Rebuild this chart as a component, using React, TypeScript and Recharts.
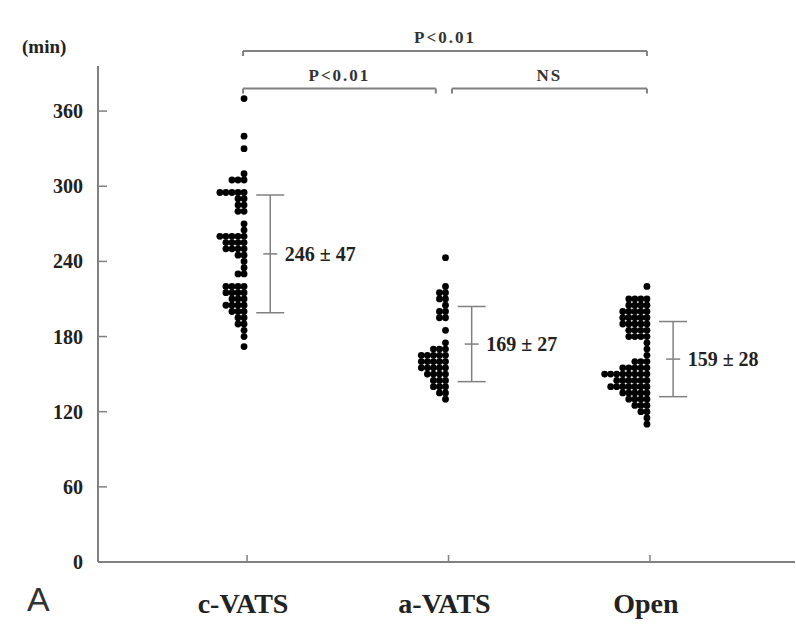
import React from 'react';
import {
  ScatterChart, Scatter, XAxis, YAxis, ErrorBar, ReferenceLine, LabelList,
} from 'recharts';

// operation time per patient (min)
const cVats = [
  370, 340, 330, 310, 305, 305, 305, 295, 295, 295, 295, 295, 290, 290, 285, 285, 280, 280,
  270, 265, 260, 260, 260, 260, 260, 255, 255, 255, 255, 250, 250, 250, 250, 245, 245, 240,
  235, 230, 230, 220, 220, 220, 220, 215, 215, 215, 215, 210, 210, 210, 205, 205, 205, 205,
  200, 200, 200, 195, 195, 190, 190, 185, 180, 172,
];
const aVats = [
  243, 220, 215, 215, 210, 210, 205, 200, 200, 195, 195, 185, 175, 170, 170, 170,
  165, 165, 165, 165, 165, 160, 160, 160, 160, 160, 155, 155, 155, 155, 155,
  150, 150, 150, 150, 145, 145, 145, 140, 140, 140, 135, 135, 130,
];
const openGroup = [
  220, 210, 210, 210, 210, 205, 205, 205, 205, 200, 200, 200, 200, 200, 195, 195, 195, 195, 195,
  190, 190, 190, 190, 190, 185, 185, 185, 185, 180, 180, 180, 180, 175, 170, 165,
  160, 160, 160, 155, 155, 155, 155, 155, 150, 150, 150, 150, 150, 150, 150, 150,
  145, 145, 145, 145, 145, 145, 140, 140, 140, 140, 140, 140, 140, 135, 135, 135, 135, 135,
  130, 130, 130, 130, 125, 125, 125, 120, 120, 115, 110,
];

const groups = ['c-VATS', 'a-VATS', 'Open'];
const groupValues = [cVats, aVats, openGroup];
// mean ± SD bars as drawn, and the printed labels
const means = [246, 174, 162];
const sds = [47, 30, 30];
const statLabels = ['246 ± 47', '169 ± 27', '159 ± 28'];
const yTicks = [0, 60, 120, 180, 240, 300, 360];

const FONT = '"Liberation Serif", "DejaVu Serif", serif';
const INK = '#222';
const LINE = '#808080';

// dot plot: equal values stack to the left of the group position
const dots = groupValues.flatMap((vals, gi) => {
  const seen: Record<number, number> = {};
  return vals.map((v) => {
    const k = seen[v] ?? 0;
    seen[v] = k + 1;
    return { x: gi + 1 - 0.015 - k * 0.03, y: v };
  });
});

const stats = means.map((m, i) => ({ x: i + 1.115, y: m, err: sds[i], label: statLabels[i] }));

const YTick = (props: any) => {
  const { x, y, payload } = props;
  return (
    <g>
      <line x1={x} x2={x + 9} y1={y} y2={y} stroke={LINE} strokeWidth={1.5} />
      <text x={x - 15} y={y} dy={7} textAnchor="end" fontFamily={FONT} fontWeight="bold"
        fontSize={20} fill={INK}>{payload.value}</text>
    </g>
  );
};

const XTick = (props: any) => {
  const { x, y, payload } = props;
  return (
    <g>
      <line x1={x} x2={x} y1={y} y2={y - 7} stroke={LINE} strokeWidth={1.5} />
      <text x={x - 4} y={y + 51} textAnchor="middle" fontFamily={FONT} fontWeight="bold"
        fontSize={28} fill={INK}>{groups[payload.value - 1]}</text>
    </g>
  );
};

const MeanTick = (props: any) => {
  const { cx, cy } = props;
  return <line x1={cx - 7} x2={cx + 7} y1={cy} y2={cy} stroke={LINE} strokeWidth={1.5} />;
};

const bracketLabel = (text: string) => ({
  value: text, position: 'top' as const, offset: 8,
  style: { fontFamily: FONT, fontWeight: 'bold', fontSize: 17, fill: '#333', letterSpacing: 2 },
});

const topY = 408;
const lowY = 378;
const drop = 4;

export default function App() {
  return (
    <div style={{ position: 'absolute', left: 0, top: 0, width: 796, height: 629, background: '#fff' }}>
      <ScatterChart width={796} height={629} margin={{ top: 66, right: 1, bottom: 0, left: 0 }}>
        <XAxis type="number" dataKey="x" domain={[0.26, 3.72]} ticks={[1, 2, 3]} height={67}
          axisLine={{ stroke: LINE, strokeWidth: 2 }} tickLine={false} tickSize={0} tickMargin={0}
          tick={<XTick />} interval={0} />
        <YAxis type="number" dataKey="y" domain={[0, 396]} ticks={yTicks} width={98}
          axisLine={{ stroke: LINE, strokeWidth: 2 }} tickLine={false} tickSize={0} tickMargin={0}
          tick={<YTick />} interval={0} />

        {/* significance brackets */}
        <ReferenceLine ifOverflow="visible" stroke={LINE} strokeWidth={2}
          segment={[{ x: 0.98, y: topY }, { x: 2.985, y: topY }]} label={bracketLabel('P<0.01')} />
        <ReferenceLine ifOverflow="visible" stroke={LINE} strokeWidth={2}
          segment={[{ x: 0.98, y: topY }, { x: 0.98, y: topY - drop }]} />
        <ReferenceLine ifOverflow="visible" stroke={LINE} strokeWidth={2}
          segment={[{ x: 2.985, y: topY }, { x: 2.985, y: topY - drop }]} />
        <ReferenceLine ifOverflow="visible" stroke={LINE} strokeWidth={2}
          segment={[{ x: 0.98, y: lowY }, { x: 1.937, y: lowY }]} label={bracketLabel('P<0.01')} />
        <ReferenceLine ifOverflow="visible" stroke={LINE} strokeWidth={2}
          segment={[{ x: 0.98, y: lowY }, { x: 0.98, y: lowY - drop }]} />
        <ReferenceLine ifOverflow="visible" stroke={LINE} strokeWidth={2}
          segment={[{ x: 1.937, y: lowY }, { x: 1.937, y: lowY - drop }]} />
        <ReferenceLine ifOverflow="visible" stroke={LINE} strokeWidth={2}
          segment={[{ x: 2.017, y: lowY }, { x: 2.985, y: lowY }]} label={bracketLabel('NS')} />
        <ReferenceLine ifOverflow="visible" stroke={LINE} strokeWidth={2}
          segment={[{ x: 2.017, y: lowY }, { x: 2.017, y: lowY - drop }]} />
        <ReferenceLine ifOverflow="visible" stroke={LINE} strokeWidth={2}
          segment={[{ x: 2.985, y: lowY }, { x: 2.985, y: lowY - drop }]} />

        <Scatter data={dots} fill="#000" isAnimationActive={false}
          shape={(p: any) => <circle cx={p.cx} cy={p.cy} r={3.4} fill="#000" />} />

        <Scatter data={stats} isAnimationActive={false} shape={<MeanTick />}>
          <ErrorBar dataKey="err" direction="y" width={14} stroke={LINE} strokeWidth={1.5} />
          <LabelList dataKey="label" position="right" offset={10}
            style={{ fontFamily: FONT, fontWeight: 'bold', fontSize: 20, fill: INK }} />
        </Scatter>
      </ScatterChart>
      <span style={{ position: 'absolute', left: 22, top: 36, fontFamily: FONT, fontWeight: 'bold',
        fontSize: 19, color: INK }}>(min)</span>
      <span style={{ position: 'absolute', left: 27, top: 580, fontFamily: '"Liberation Sans", Arial, sans-serif',
        fontSize: 34, color: '#333' }}>A</span>
    </div>
  );
}
